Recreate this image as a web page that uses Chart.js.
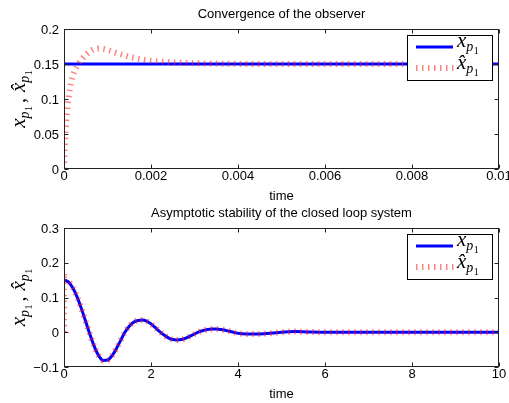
<!DOCTYPE html>
<html>
<head>
<meta charset="utf-8">
<script src="https://cdn.jsdelivr.net/npm/chart.js@4.4.1/dist/chart.umd.min.js"></script>
<style>
  body { margin: 0; background: #fff; }
  #wrap { position: relative; width: 509px; height: 403px; overflow: hidden; }
  canvas { position: absolute; left: 0; }
</style>
</head>
<body>
<div id="wrap">
  <canvas id="top" width="509" height="210" style="top:0"></canvas>
  <canvas id="bottom" width="509" height="202" style="top:201px"></canvas>
</div>
<script>
// top plot: observer convergence (time in s)
const topRefT = [0, 0.01];
const topRefY = [0.15, 0.15];
const topObsT = [0, 0.00001, 0.00003, 0.00005, 0.00008, 0.00012, 0.00016, 0.0002, 0.00025, 0.0003,
  0.00035, 0.0004, 0.0005, 0.0006, 0.0007, 0.0008, 0.0009, 0.001, 0.0012, 0.0014,
  0.0016, 0.0018, 0.002, 0.0024, 0.0028, 0.0032, 0.0036, 0.004, 0.005, 0.01];
const topObsY = [0, 0.02, 0.045, 0.065, 0.088, 0.108, 0.122, 0.132, 0.141, 0.147,
  0.152, 0.156, 0.163, 0.168, 0.171, 0.172, 0.1715, 0.170, 0.166, 0.162,
  0.159, 0.1565, 0.1545, 0.1528, 0.1516, 0.1509, 0.1505, 0.1502, 0.150, 0.150];
const topXTicks = [0, 0.002, 0.004, 0.006, 0.008, 0.01];
const topXLabels = ["0", "0.002", "0.004", "0.006", "0.008", "0.01"];
const topYTicks = [0, 0.05, 0.1, 0.15, 0.2];
const topYLabels = ["0", "0.05", "0.1", "0.15", "0.2"];

// bottom plot: closed loop response
const botT = [0, 0.1, 0.2, 0.3, 0.4, 0.5, 0.6, 0.7, 0.8, 0.9, 1.0, 1.1, 1.2, 1.3, 1.4, 1.5, 1.6, 1.7, 1.8, 1.9,
  2.0, 2.1, 2.2, 2.3, 2.4, 2.5, 2.6, 2.7, 2.8, 2.9, 3.0, 3.1, 3.2, 3.3, 3.4, 3.5, 3.6, 3.7, 3.8, 3.9,
  4.0, 4.2, 4.4, 4.6, 4.8, 5.0, 5.3, 5.6, 6.0, 7.0, 8.0, 10.0];
const botY = [0.150, 0.145, 0.128, 0.102, 0.068, 0.030, -0.008, -0.042, -0.068, -0.081, -0.080, -0.068, -0.048, -0.024, 0.000, 0.017, 0.029, 0.034, 0.035, 0.032,
  0.024, 0.013, 0.002, -0.008, -0.016, -0.021, -0.022, -0.021, -0.017, -0.011, -0.005, 0.001, 0.005, 0.008, 0.009, 0.009, 0.008, 0.006, 0.003, 0.000,
  -0.003, -0.005, -0.005, -0.004, -0.002, 0.000, 0.002, 0.001, 0.000, 0.000, 0.000, 0.000];
const botObsT = [0, 0.003, 0.006].concat(botT.slice(1));
const botObsY = [0, 0.17, 0.15].concat(botY.slice(1));
const botXTicks = [0, 2, 4, 6, 8, 10];
const botXLabels = ["0", "2", "4", "6", "8", "10"];
const botYTicks = [-0.1, 0, 0.1, 0.2, 0.3];
const botYLabels = ["\u22120.1", "0", "0.1", "0.2", "0.3"];

const SANS = "13px 'Liberation Sans', Arial, sans-serif";
const SERIF = "'Liberation Serif', 'Times New Roman', serif";
const RED = "rgba(255,30,30,0.55)";

function pts(t, y) {
  return t.map((v, i) => ({ x: v, y: y[i] }));
}

// math parts for x_{p_1} and \hat{x}_{p_1}
function mathX(hat) {
  return [
    { t: hat ? "x\u0302" : "x", f: "italic 21px " + SERIF, dy: 0 },
    { t: "p", f: "italic 14px " + SERIF, dy: 4, gap: 0.5 },
    { t: "1", f: "10px " + SERIF, dy: 7 },
  ];
}

function mathWidth(ctx, parts) {
  let w = 0;
  for (const p of parts) {
    ctx.font = p.f;
    w += ctx.measureText(p.t).width + (p.gap || 0);
  }
  return w;
}

function drawMath(ctx, x, y, parts) {
  let cx = x;
  for (const p of parts) {
    ctx.font = p.f;
    ctx.fillText(p.t, cx, y + p.dy);
    cx += ctx.measureText(p.t).width + (p.gap || 0);
  }
}

const matlabAxes = {
  id: "matlabAxes",
  afterDraw(chart, args, opts) {
    const ctx = chart.ctx;
    const a = chart.chartArea;
    const xs = chart.scales.x;
    const ys = chart.scales.y;
    ctx.save();

    // legend box
    const bx = a.right - 92, by = a.top + 6;
    ctx.fillStyle = "#fff";
    ctx.fillRect(bx, by, 85, 45);
    ctx.strokeStyle = "#000";
    ctx.lineWidth = 1;
    ctx.strokeRect(bx + 0.5, by + 0.5, 85, 45);
    ctx.strokeStyle = "#0000ff";
    ctx.lineWidth = 3;
    ctx.beginPath();
    ctx.moveTo(bx + 9, by + 12);
    ctx.lineTo(bx + 46, by + 12);
    ctx.stroke();
    ctx.strokeStyle = RED;
    ctx.lineWidth = 6;
    ctx.setLineDash([1.5, 4.5]);
    ctx.beginPath();
    ctx.moveTo(bx + 9, by + 33);
    ctx.lineTo(bx + 48, by + 33);
    ctx.stroke();
    ctx.setLineDash([]);
    ctx.fillStyle = "#000";
    ctx.textAlign = "left";
    ctx.textBaseline = "alphabetic";
    drawMath(ctx, bx + 50, by + 12, mathX(false));
    drawMath(ctx, bx + 50, by + 34, mathX(true));

    // frame
    ctx.strokeStyle = "#222";
    ctx.lineWidth = 1;
    const L = Math.round(a.left) + 0.5, R = Math.round(a.right) - 0.5;
    const T = Math.round(a.top) + 0.5, B = Math.round(a.bottom) - 0.5;
    ctx.strokeRect(L, T, R - L, B - T);

    // inward ticks and labels
    ctx.font = SANS;
    ctx.fillStyle = "#000";
    ctx.beginPath();
    opts.xTicks.forEach((v) => {
      const px = Math.round(xs.getPixelForValue(v)) + 0.5;
      ctx.moveTo(px, B); ctx.lineTo(px, B - 4);
      ctx.moveTo(px, T); ctx.lineTo(px, T + 4);
    });
    opts.yTicks.forEach((v) => {
      const py = Math.round(ys.getPixelForValue(v)) + 0.5;
      ctx.moveTo(L, py); ctx.lineTo(L + 4, py);
      ctx.moveTo(R, py); ctx.lineTo(R - 4, py);
    });
    ctx.stroke();

    ctx.textAlign = "center";
    ctx.textBaseline = "middle";
    opts.xTicks.forEach((v, i) => {
      ctx.fillText(opts.xLabels[i], xs.getPixelForValue(v), a.bottom + 7);
    });
    ctx.textAlign = "right";
    opts.yTicks.forEach((v, i) => {
      ctx.fillText(opts.yLabels[i], a.left - 5, ys.getPixelForValue(v) + 1);
    });

    // title and x label
    const cx = (a.left + a.right) / 2;
    ctx.textAlign = "center";
    ctx.fillText(opts.title, cx, a.top - 15);
    ctx.fillText("time", cx, a.bottom + 27.5);

    // y label (rotated)
    const parts = mathX(false).concat(
      [{ t: ",", f: "20px " + SERIF, dy: 0, gap: 6 }],
      mathX(true)
    );
    parts[2].gap = 3;
    ctx.translate(25, (a.top + a.bottom) / 2);
    ctx.rotate(-Math.PI / 2);
    ctx.textAlign = "left";
    ctx.textBaseline = "alphabetic";
    const w = mathWidth(ctx, parts);
    drawMath(ctx, -w / 2, 0, parts);

    ctx.restore();
  },
};

function makeChart(id, refPts, obsPts, xr, yr, xH, padTop, axes) {
  return new Chart(document.getElementById(id), {
    type: "line",
    data: {
      datasets: [
        {
          data: obsPts,
          borderColor: RED,
          borderWidth: 6,
          borderDash: [1.5, 4.5],
          borderCapStyle: "butt",
          pointRadius: 0,
          cubicInterpolationMode: "monotone",
        },
        {
          data: refPts,
          borderColor: "#0000ff",
          borderWidth: 3,
          pointRadius: 0,
          cubicInterpolationMode: "monotone",
        },
      ],
    },
    options: {
      responsive: false,
      animation: false,
      layout: { padding: { top: padTop, left: 0, right: 10, bottom: 0 } },
      plugins: {
        legend: { display: false },
        tooltip: { enabled: false },
        matlabAxes: axes,
      },
      scales: {
        x: {
          type: "linear",
          min: xr[0],
          max: xr[1],
          grid: { display: false },
          border: { display: false },
          ticks: { display: false },
          afterFit: (s) => { s.height = xH; },
        },
        y: {
          type: "linear",
          min: yr[0],
          max: yr[1],
          grid: { display: false },
          border: { display: false },
          ticks: { display: false },
          afterFit: (s) => { s.width = 64; },
        },
      },
    },
    plugins: [matlabAxes],
  });
}

makeChart("top", pts(topRefT, topRefY), pts(topObsT, topObsY), [0, 0.01], [0, 0.2], 41, 29, {
  title: "Convergence of the observer",
  xTicks: topXTicks, xLabels: topXLabels, yTicks: topYTicks, yLabels: topYLabels,
});
makeChart("bottom", pts(botT, botY), pts(botObsT, botObsY), [0, 10], [-0.1, 0.3], 36, 27, {
  title: "Asymptotic stability of the closed loop system",
  xTicks: botXTicks, xLabels: botXLabels, yTicks: botYTicks, yLabels: botYLabels,
});
</script>
</body>
</html>
